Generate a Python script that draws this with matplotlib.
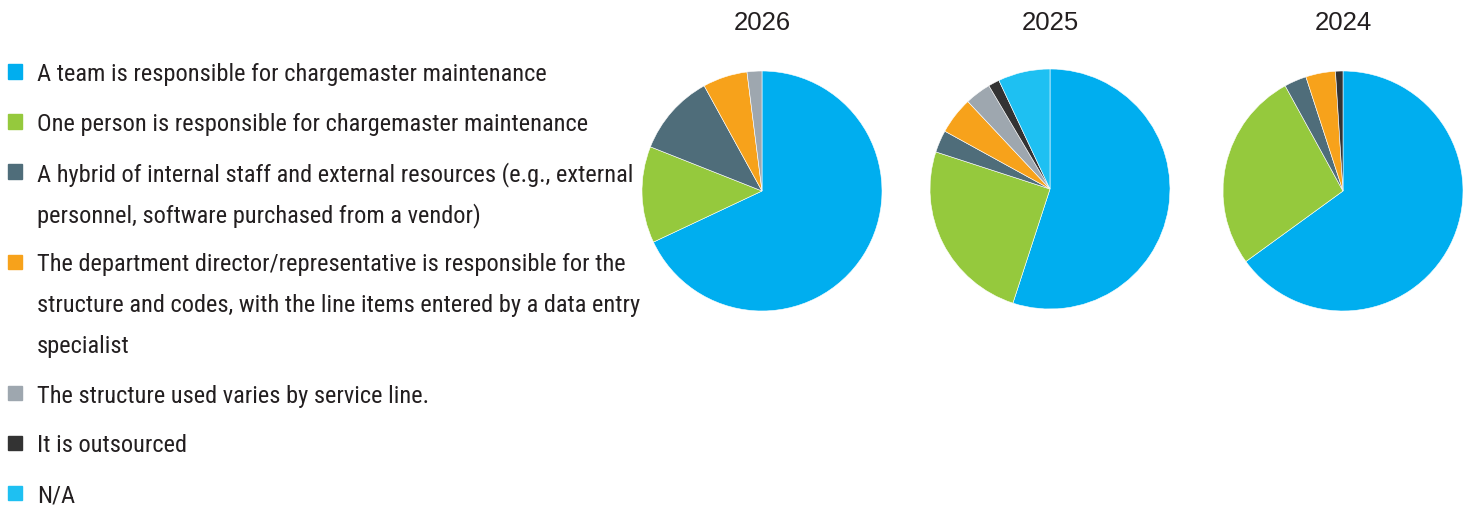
import matplotlib.pyplot as plt
from matplotlib.patches import Rectangle
from matplotlib import font_manager

W, H = 1472, 510

# look for a condensed face, fall back to Liberation Sans
fonts = font_manager.fontManager.ttflist
names = {f.name for f in fonts}
label_font = dict(family=['Liberation Sans', 'DejaVu Sans'])
for cand in ['Liberation Sans Narrow', 'Roboto Condensed', 'Open Sans Condensed',
             'DejaVu Sans Condensed', 'Noto Sans Condensed']:
    if cand in names:
        label_font = dict(family=[cand, 'DejaVu Sans'])
        break
else:
    for f in fonts:
        if f.stretch in ('condensed', 'semi-condensed', 'extra-condensed') and 'Mono' not in f.name \
                and 'Serif' not in f.name:
            label_font = dict(family=[f.name, 'DejaVu Sans'], fontstretch=f.stretch)
            break
plt.rcParams['font.family'] = ['Liberation Sans', 'DejaVu Sans']

categories = [
    "A team is responsible for chargemaster maintenance",
    "One person is responsible for chargemaster maintenance",
    "A hybrid of internal staff and external resources (e.g., external\npersonnel, software purchased from a vendor)",
    "The department director/representative is responsible for the\nstructure and codes, with the line items entered by a data entry\nspecialist",
    "The structure used varies by service line.",
    "It is outsourced",
    "N/A",
]
colors = ['#00AEEF', '#95C93D', '#4F6D7A', '#F7A21B', '#9EA7AF', '#333333', '#1EC0F2']

years = ['2026', '2025', '2024']
share_2026 = [68, 13, 11, 6, 2, 0, 0]
share_2025 = [55, 25, 3, 5, 3.5, 1.5, 7]
share_2024 = [65, 27, 3, 4, 0, 1, 0]
shares = [share_2026, share_2025, share_2024]

# pie centres in pixels
centres = [(762, 192), (1050, 190), (1343, 192)]
radius = 120
text_color = '#231F20'

fig = plt.figure(figsize=(W / 100, H / 100), dpi=100)

for year, vals, (cx, cy) in zip(years, shares, centres):
    ax = fig.add_axes([(cx - radius) / W, 1 - (cy + radius) / H, 2 * radius / W, 2 * radius / H])
    keep = [(v, c) for v, c in zip(vals, colors) if v > 0]
    ax.pie([v for v, _ in keep], colors=[c for _, c in keep], startangle=90,
           counterclock=False, radius=1,
           wedgeprops=dict(edgecolor='white', linewidth=0.4))
    ax.set_xlim(-1.0, 1.0)
    ax.set_ylim(-1.0, 1.0)
    ax.set_aspect('equal')
    fig.text(cx / W, 1 - 21 / H, year, ha='center', va='center_baseline',
             fontsize=18.5, color=text_color)

# legend drawn by hand; square sits on the first line of each label
line_h = 40.5
gap = 50
y = 72
for label, color in zip(categories, colors):
    fig.patches.append(Rectangle((7.5 / W, 1 - (y + 7.5) / H), 14.5 / W, 14.5 / H,
                                 transform=fig.transFigure, color=color))
    for i, line in enumerate(label.split('\n')):
        fig.text(37 / W, 1 - (y + i * line_h) / H, line, ha='left', va='center_baseline',
                 fontsize=17.6, color=text_color, **label_font)
    y += gap + label.count('\n') * line_h

fig.savefig('out.png', dpi=100)
